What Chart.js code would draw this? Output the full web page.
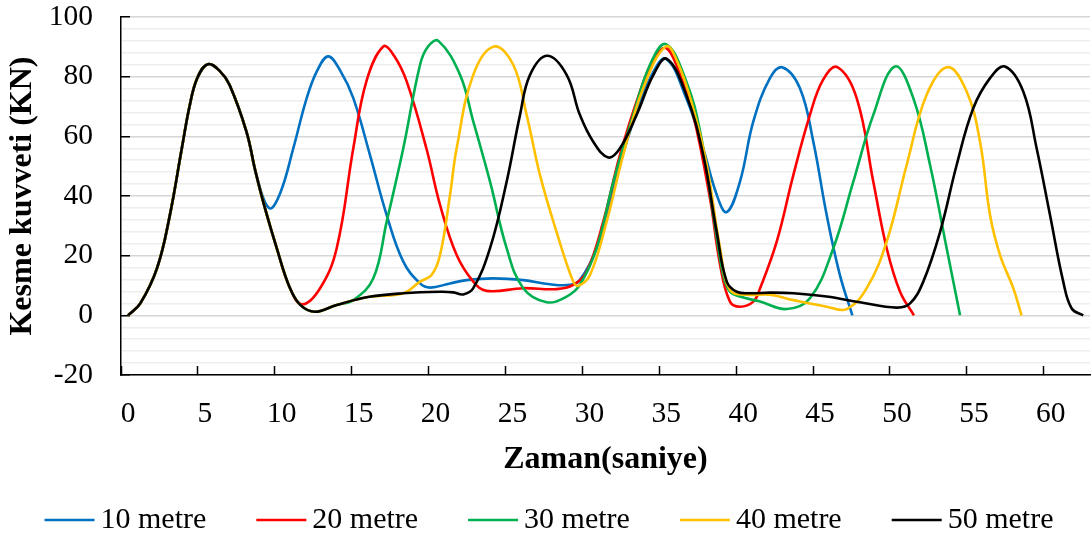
<!DOCTYPE html>
<html>
<head>
<meta charset="utf-8">
<style>
  html, body { margin: 0; padding: 0; background: #ffffff; }
  #wrap { width: 1092px; height: 543px; }
</style>
<script src="https://cdn.jsdelivr.net/npm/chart.js@4.4.1/dist/chart.umd.min.js"></script>
</head>
<body>
<div id="wrap"><canvas id="c" width="1092" height="543"></canvas></div>
<script>
// Series names and colours
const seriesLabels = ['10 metre', '20 metre', '30 metre', '40 metre', '50 metre'];
const seriesColors = ['#0070C0', '#FF0000', '#00B050', '#FFC000', '#000000'];

// Axis tick values
const xTickValues = [0, 5, 10, 15, 20, 25, 30, 35, 40, 45, 50, 55, 60];
const yTickValues = [-20, 0, 20, 40, 60, 80, 100];

// Opening pulse shared by every span (time s, shear kN)
const startT  = [0, 0.8, 1.9, 2.7, 3.5, 4.0, 4.5, 5.2, 6.0, 6.6, 7.7];
const startKN = [0, 4, 16, 33, 56, 70, 79.5, 84.2, 81.7, 77.3, 61.6];

// Shared fall after the first pulse (20-50 m)
const fallT  = [8.3, 8.9, 9.7, 10.5];
const fallKN = [48, 36, 22, 9.5];

// Shared trough (30-50 m)
const troughT  = [11.2, 12.16, 13.57];
const troughKN = [3.5, 1.2, 3.5];

// 10 metre
const t10 = startT.concat([8.4, 9.2, 9.9, 10.75, 11.62, 12.3, 13.02, 13.8, 14.65, 15.73, 16.82, 17.9, 18.99, 19.64, 20.94, 22.02, 23.75, 25.7, 27.44, 28.74, 29.38, 30.47, 31.56, 32.85, 34.0, 34.98, 36.3, 37.4, 38.28, 38.93, 39.79, 40.66, 41.74, 42.57, 43.69, 44.56, 45.43, 46.29, 47.1]);
const kn10 = startKN.concat([46, 35.9, 41, 56, 72.8, 82, 86.8, 82, 72.8, 53.8, 33.6, 18, 10.7, 9.3, 10.7, 11.8, 12.4, 11.8, 10.4, 10.2, 11.8, 22.5, 42.6, 65, 80, 86, 72.8, 56, 40.4, 34.6, 44.8, 65, 79.5, 83.1, 76.1, 58.2, 33.6, 13.5, 0]);

// 20 metre
const t20 = startT.concat(fallT, [11.3, 12.48, 13.57, 14.65, 15.5, 16.6, 17.3, 18.12, 19.4, 20.29, 21.37, 22.45, 23.32, 25.7, 27.87, 28.95, 29.82, 30.9, 31.99, 33.29, 34.2, 34.98, 35.8, 36.75, 37.84, 38.5, 39.14, 39.79, 40.66, 41.1, 42.18, 43.26, 44.34, 45.2, 46.12, 47.38, 48.46, 49.33, 50.2, 51.1]);
const kn20 = startKN.concat(fallKN, [3.7, 9, 22.5, 56, 78.4, 90.1, 87, 78.4, 56, 37, 20.2, 11.3, 8.2, 9.1, 8.8, 10.2, 14.6, 31.4, 53.8, 75, 86, 89.6, 82, 67.2, 39.2, 16.9, 4.6, 2.9, 4.6, 9.1, 24.7, 47, 67.2, 79, 83.2, 72.8, 44.8, 22.5, 7.9, 0]);

// 30 metre
const t30 = startT.concat(fallT, troughT, [14.65, 15.95, 16.82, 17.9, 18.99, 19.5, 20.18, 21.59, 22.45, 23.54, 24.62, 25.7, 27.22, 28.52, 29.38, 30.47, 31.56, 32.85, 33.94, 34.98, 36.3, 37.2, 38.06, 38.7, 39.14, 39.79, 41.1, 42.83, 44.34, 45.86, 47.16, 48.46, 49.87, 51.06, 52.15, 53.23, 54.1]);
const kn30 = startKN.concat(fallKN, troughKN, [5.1, 12.4, 31.4, 56, 84, 90, 92, 80.6, 65, 44.8, 22.5, 9.1, 4.4, 6.3, 10.2, 22.5, 44.8, 67.2, 84, 90.9, 78.4, 61.6, 33.6, 13.5, 7.9, 6.3, 4.6, 2.1, 5.7, 22.5, 44.8, 67.2, 83.4, 72.8, 50.4, 22.5, 0]);

// 40 metre
const t40 = startT.concat(fallT, troughT, [15.7, 17.9, 18.99, 19.74, 20.29, 20.94, 21.37, 22.45, 23.8, 25.05, 25.92, 26.79, 27.87, 28.95, 29.28, 30.04, 31.12, 32.2, 33.5, 34.98, 35.8, 36.75, 37.63, 38.5, 39.14, 40.23, 41.74, 43.26, 45.43, 46.73, 48.03, 49.33, 50.63, 51.93, 53.3, 54.53, 55.4, 56.05, 56.7, 57.56, 58.1]);
const kn40 = startKN.concat(fallKN, troughKN, [6.2, 7.4, 11.3, 13.5, 20.2, 40.4, 56, 80.6, 90.1, 84, 67.2, 47, 27.9, 11.3, 9.9, 13.5, 31.4, 53.8, 76.1, 90.1, 84, 69.4, 50.4, 22.5, 8.5, 6.9, 6.9, 5.1, 2.9, 2.1, 9.1, 24.7, 50.4, 73.9, 83.2, 75, 58.2, 33.6, 20.2, 9.1, 0]);

// 50 metre
const t50 = startT.concat(fallT, troughT, [15.7, 17.9, 20.29, 21.15, 21.8, 22.45, 23.54, 24.62, 25.49, 26.14, 27.26, 28.52, 29.38, 30.25, 31.23, 31.99, 33.07, 34.16, 35.03, 36.3, 37.4, 38.28, 38.93, 39.58, 40.44, 41.74, 43.26, 45.43, 47.59, 49.98, 50.85, 51.71, 52.8, 53.88, 54.96, 56.05, 57.02, 58.21, 59.08, 59.95, 60.81, 61.36, 62.11]);
const kn50 = startKN.concat(fallKN, troughKN, [6.2, 7.4, 7.9, 7.7, 7.0, 9.1, 22.5, 44.8, 67.2, 80.6, 87, 80.6, 67.2, 58.2, 52.9, 56, 67.2, 80.6, 86, 73.9, 53.8, 27.9, 11.3, 7.9, 7.4, 7.6, 7.4, 6.3, 4.4, 2.6, 4.0, 11.3, 27.9, 50.4, 69.4, 79.5, 83.4, 75, 56, 33.6, 11.3, 2.3, 0]);

const timeSeries = [t10, t20, t30, t40, t50];
const forceSeries = [kn10, kn20, kn30, kn40, kn50];

const serif = '"Liberation Serif", "Times New Roman", serif';
Chart.defaults.font.family = serif;
Chart.defaults.color = '#000000';

// y grid every 4 kN, labelled every 20
const yGridValues = [];
for (let v = -20; v <= 100; v += 4) yGridValues.push(v);

// Legend drawn as a single row of short line samples under the axis title
const lineLegend = {
  id: 'lineLegend',
  afterDraw(chart) {
    const ctx = chart.ctx;
    const sets = chart.data.datasets;
    const lineLen = 50, gap = 6, spacing = 50, y = 520;
    ctx.save();
    ctx.font = '30px ' + serif;
    const widths = sets.map(d => lineLen + gap + ctx.measureText(d.label).width);
    const total = widths.reduce((a, b) => a + b, 0) + spacing * (sets.length - 1);
    let x = (chart.width - total) / 2 + 3;
    sets.forEach((d, i) => {
      ctx.strokeStyle = d.borderColor;
      ctx.lineWidth = 2.6;
      ctx.beginPath();
      ctx.moveTo(x, y);
      ctx.lineTo(x + lineLen, y);
      ctx.stroke();
      ctx.fillStyle = '#000000';
      ctx.textAlign = 'left';
      ctx.textBaseline = 'middle';
      ctx.fillText(d.label, x + lineLen + gap, y);
      x += widths[i] + spacing;
    });
    ctx.restore();
  }
};

const datasets = seriesLabels.map((label, i) => ({
  label: label,
  data: timeSeries[i].map((t, k) => ({ x: t, y: forceSeries[i][k] })),
  borderColor: seriesColors[i],
  backgroundColor: seriesColors[i],
  borderWidth: 2.6,
  pointRadius: 0,
  pointHoverRadius: 0,
  fill: false,
  tension: 0.4,
  order: seriesLabels.length - 1 - i
}));

new Chart(document.getElementById('c'), {
  type: 'line',
  data: { datasets: datasets },
  options: {
    responsive: false,
    animation: false,
    devicePixelRatio: 1,
    layout: { padding: { top: 17, right: 2, bottom: 60, left: 0 } },
    plugins: {
      legend: { display: false },
      tooltip: { enabled: false }
    },
    scales: {
      x: {
        type: 'linear',
        min: -0.455,
        max: 62.55,
        afterBuildTicks: (scale) => {
          scale.ticks = xTickValues.map(v => ({ value: v - 0.455 }));
        },
        afterFit: (scale) => {
          scale.height = 108;
          scale.paddingLeft = 0;
          scale.paddingRight = 0;
        },
        ticks: {
          autoSkip: false,
          maxRotation: 0,
          padding: 31,
          labelOffset: 7,
          font: { size: 29.5 },
          color: '#000000',
          callback: (value) => String(Math.round(value + 0.455))
        },
        grid: {
          drawOnChartArea: false,
          drawTicks: true,
          tickLength: -9,
          tickColor: '#000000',
          tickWidth: 1.5
        },
        border: { display: true, color: '#000000', width: 1.5 },
        title: {
          display: true,
          text: 'Zaman(saniye)',
          font: { size: 32, weight: 'bold' },
          color: '#000000',
          padding: { top: 4, bottom: 4 }
        }
      },
      y: {
        type: 'linear',
        min: -20,
        max: 100,
        afterBuildTicks: (scale) => {
          scale.ticks = yGridValues.map(v => ({ value: v }));
        },
        afterFit: (scale) => {
          scale.width = 121;
          scale.paddingTop = 0;
          scale.paddingBottom = 0;
        },
        ticks: {
          autoSkip: false,
          padding: 37,
          font: { size: 29.5 },
          color: '#000000',
          callback: (value) => (yTickValues.includes(value) ? String(value) : '')
        },
        grid: {
          drawTicks: true,
          tickLength: -9,
          tickWidth: 1.5,
          tickColor: (ctx) => (ctx.tick && yTickValues.includes(ctx.tick.value) ? '#000000' : 'rgba(0,0,0,0)'),
          color: (ctx) => (ctx.tick && yTickValues.includes(ctx.tick.value) ? '#d6d6d6' : '#eeeeee'),
          lineWidth: 1.5
        },
        border: { display: true, color: '#000000', width: 1.5 },
        title: {
          display: true,
          text: 'Kesme kuvveti (KN)',
          font: { size: 32, weight: 'bold' },
          color: '#000000',
          padding: { top: 4, bottom: 4 }
        }
      }
    }
  },
  plugins: [lineLegend]
});
</script>
</body>
</html>
